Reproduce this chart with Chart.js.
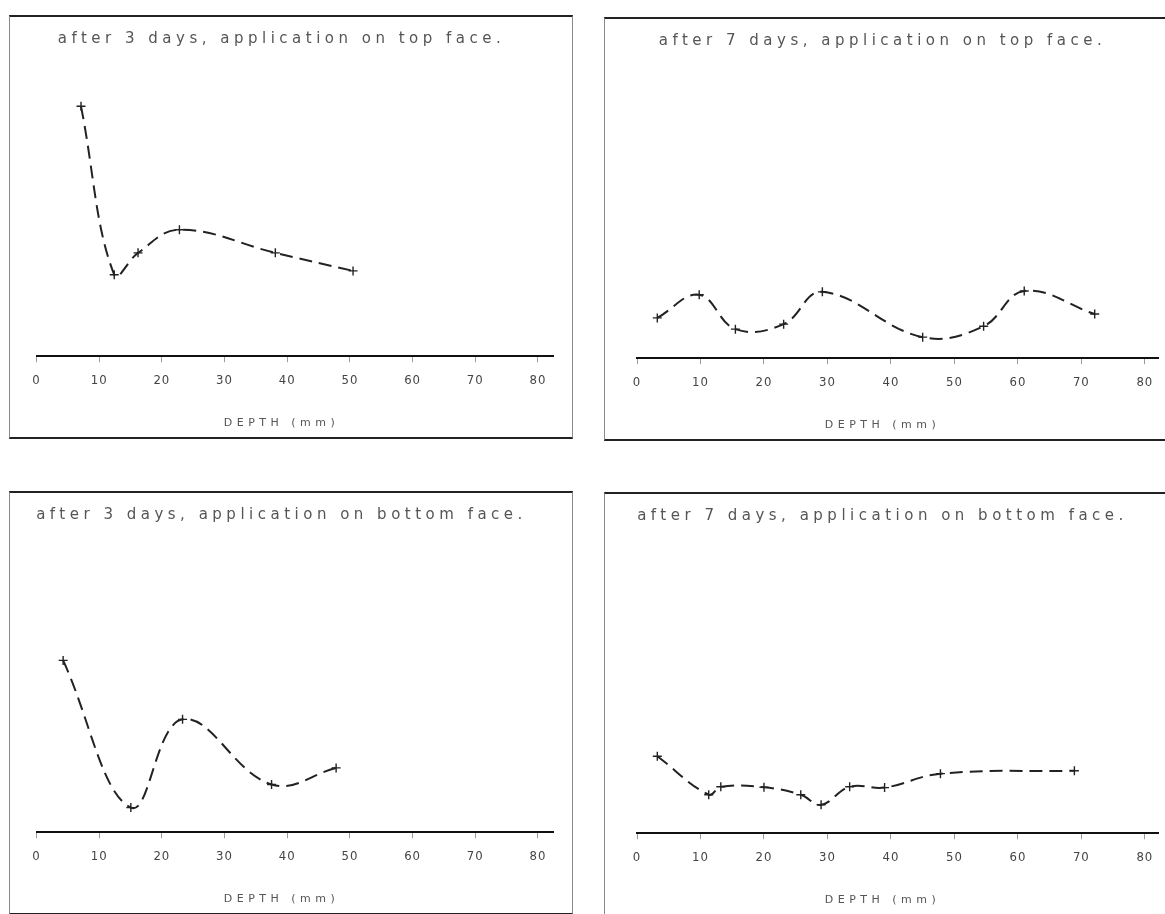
<!DOCTYPE html>
<html>
<head>
<meta charset="utf-8">
<script src="https://cdn.jsdelivr.net/npm/chart.js@4.4.1/dist/chart.umd.min.js"></script>
<style>
  html, body { margin: 0; padding: 0; background: #ffffff; width: 1165px; height: 914px; overflow: hidden; position: relative; }
  .panel { position: absolute; border-top: 2px solid #222; border-bottom: 2px solid #222; border-left: 1px solid #8a8a8a; border-right: 1px solid #8a8a8a; background: #fff; }
  .panel canvas { display: block; }
</style>
</head>
<body>
<div class="panel" style="left:9px;top:15px;"><canvas id="c0" width="562" height="420"></canvas></div>
<div class="panel" style="left:604px;top:17px;"><canvas id="c1" width="563" height="420"></canvas></div>
<div class="panel" style="left:9px;top:491px;"><canvas id="c2" width="562" height="420"></canvas></div>
<div class="panel" style="left:604px;top:492px;"><canvas id="c3" width="563" height="420"></canvas></div>
<script>
// ---- data ----
const xTicks = [0, 10, 20, 30, 40, 50, 60, 70, 80];
const axisTitle = 'DEPTH (mm)';
const titles = [
  'after 3 days, application on top face.',
  'after 7 days, application on top face.',
  'after 3 days, application on bottom face.',
  'after 7 days, application on bottom face.'
];
const depth3Top = [7.1, 12.4, 16.2, 22.8, 38.1, 50.5];
const value3Top = [8.44, 2.75, 3.49, 4.27, 3.49, 2.88];
const depth7Top = [3.2, 9.8, 15.5, 23.1, 29.2, 45.0, 54.6, 61.0, 72.1];
const value7Top = [1.36, 2.14, 0.98, 1.15, 2.24, 0.71, 1.08, 2.27, 1.49];
const depth3Bottom = [4.25, 15.05, 23.3, 37.5, 47.8];
const value3Bottom = [5.80, 0.83, 3.81, 1.61, 2.17];
const depth7Bottom = [3.2, 11.3, 13.2, 20.0, 25.8, 29.0, 33.5, 39.0, 47.8, 68.9];
const value7Bottom = [2.60, 1.30, 1.57, 1.55, 1.30, 0.96, 1.57, 1.54, 2.01, 2.11];

const seriesX = [depth3Top, depth7Top, depth3Bottom, depth7Bottom];
const seriesY = [value3Top, value7Top, value3Bottom, value7Bottom];

// ---- layout per panel (not data) ----
const panelLayout = [
  { yAxisWidth: 26.5, xMax: 82.4, padRight: 19 },
  { yAxisWidth: 32,   xMax: 82.2, padRight: 8 },
  { yAxisWidth: 26.5, xMax: 82.4, padRight: 19 },
  { yAxisWidth: 32,   xMax: 82.2, padRight: 8 }
];

const FONT = "'DejaVu Sans', 'Liberation Sans', sans-serif";
const TICKFONT = "'DejaVu Sans Condensed', 'Liberation Sans Narrow', 'DejaVu Sans', sans-serif";

const spacingPlugin = {
  id: 'spacing',
  beforeLayout(chart) { chart.ctx.letterSpacing = '4.5px'; },
  beforeDraw(chart) { chart.ctx.letterSpacing = '4.5px'; },
  afterDatasetsDraw(chart) { chart.ctx.letterSpacing = '1px'; },
  afterDraw(chart) { chart.ctx.letterSpacing = '0px'; }
};

for (let i = 0; i < 4; i++) {
  const L = panelLayout[i];
  const pts = seriesX[i].map((x, k) => ({ x: x, y: seriesY[i][k] }));
  new Chart(document.getElementById('c' + i), {
    type: 'line',
    data: {
      datasets: [{
        data: pts,
        borderColor: '#222',
        borderWidth: 2,
        borderDash: [13, 7],
        tension: 0.4,
        fill: false,
        pointStyle: 'cross',
        pointRadius: 4.5,
        pointBorderWidth: 1.4,
        pointBorderColor: '#222',
        pointBackgroundColor: '#222'
      }]
    },
    options: {
      responsive: false,
      animation: false,
      events: [],
      layout: { padding: { left: 0, right: L.padRight, top: 0, bottom: 0 } },
      plugins: {
        legend: { display: false },
        tooltip: { enabled: false },
        title: {
          display: true,
          text: titles[i],
          color: '#555',
          font: { family: FONT, size: 15, weight: 'normal' },
          padding: { top: 13, bottom: 12 }
        },
        subtitle: {
          display: true,
          position: 'bottom',
          text: axisTitle,
          color: '#555',
          font: { family: FONT, size: 11, weight: 'normal' },
          padding: { top: 17, bottom: 7 }
        }
      },
      scales: {
        x: {
          type: 'linear',
          min: 0,
          max: L.xMax,
          afterBuildTicks: (scale) => { scale.ticks = xTicks.map(v => ({ value: v })); },
          ticks: {
            autoSkip: false,
            maxRotation: 0,
            padding: 11,
            z: 1,
            color: '#444',
            font: { family: TICKFONT, size: 13 },
            callback: (v) => String(v)
          },
          grid: { display: true, drawOnChartArea: false, drawTicks: true, tickLength: 6, color: '#9a9a9a', lineWidth: 1 },
          border: { display: true, color: '#111', width: 2 }
        },
        y: {
          type: 'linear',
          position: 'left',
          min: 0,
          max: 10,
          display: true,
          ticks: { display: false },
          grid: { display: false, drawTicks: false },
          border: { display: false },
          afterFit: (scale) => { scale.width = L.yAxisWidth; }
        }
      }
    },
    plugins: [spacingPlugin]
  });
}
</script>
</body>
</html>
